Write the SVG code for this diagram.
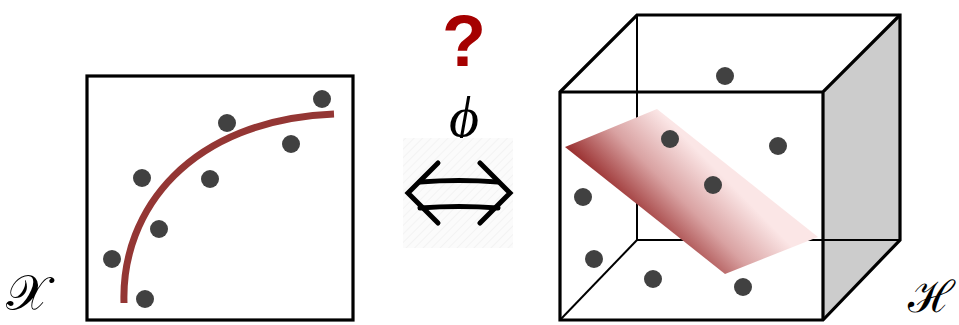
<svg xmlns="http://www.w3.org/2000/svg" width="959" height="325" viewBox="0 0 959 325">
<style>
.dot{fill:#414141}
.thick{fill:none;stroke:#000;stroke-width:3.2;stroke-linejoin:miter}
.thin{fill:none;stroke:#000;stroke-width:2}
.lbl{font-family:"DejaVu Serif","Liberation Serif",serif}
</style>
<defs>
<linearGradient id="plane" gradientUnits="userSpaceOnUse" x1="640" y1="222" x2="705" y2="158">
<stop offset="0" stop-color="#9a3030"/>
<stop offset="0.5" stop-color="#d9a2a2"/>
<stop offset="1" stop-color="#fbe6e6"/>
</linearGradient>
<pattern id="hatch" width="6" height="6" patternUnits="userSpaceOnUse" patternTransform="rotate(45)">
<rect width="6" height="6" fill="#fbfbfb"/>
<line x1="0" y1="0" x2="0" y2="6" stroke="#f3f3f3" stroke-width="2"/>
</pattern>
</defs>
<g id="input-space">
<rect x="87" y="76" width="266" height="244" class="thick"/>
<path d="M124,303 C121,210 190,120 334,114" fill="none" stroke="#943634" stroke-width="7"/>
<circle class="dot" cx="322" cy="99" r="9"/>
<circle class="dot" cx="227" cy="123" r="9"/>
<circle class="dot" cx="291" cy="144" r="9"/>
<circle class="dot" cx="142" cy="178" r="9"/>
<circle class="dot" cx="210" cy="179" r="9"/>
<circle class="dot" cx="159" cy="229" r="9"/>
<circle class="dot" cx="112" cy="259" r="9"/>
<circle class="dot" cx="145" cy="299" r="9"/>
<text class="lbl" x="6" y="310" font-size="50">𝒳</text>
</g>
<g id="mapping">
<text x="464" y="66" font-family="Liberation Sans, Arial, sans-serif" font-weight="bold" font-size="72" fill="#a50000" text-anchor="middle">?</text>
<text x="464" y="136" font-family="Liberation Serif, DejaVu Serif, serif" font-size="58" font-style="italic" text-anchor="middle">ϕ</text>
<rect x="403" y="138" width="110" height="110" fill="url(#hatch)"/>
<g fill="none" stroke="#000" stroke-width="5" stroke-linecap="round" stroke-linejoin="miter">
<polyline points="438,163 408,193 438,223"/>
<polyline points="480,163 510,193 480,223"/>
<path d="M420,182 Q459,179 498,182"/>
<path d="M420,208 Q459,205 498,208"/>
</g>
</g>
<g id="feature-space">
<polygon points="823,92 900,15 900,240 823,320" fill="#cccccc"/>
<line class="thin" x1="637" y1="15" x2="637" y2="240"/>
<line class="thin" x1="637" y1="240" x2="900" y2="240"/>
<line class="thin" x1="637" y1="240" x2="560" y2="320"/>
<polygon points="565,147 657,109 818,237 725,274" fill="url(#plane)"/>
<path class="thick" d="M560,320 L560,92 L637,15 L900,15 L900,240 L823,320 Z"/>
<path class="thick" d="M560,92 L823,92 L900,15 M823,92 L823,320"/>
<circle class="dot" cx="725" cy="76" r="9"/>
<circle class="dot" cx="670" cy="139" r="9"/>
<circle class="dot" cx="778" cy="146" r="9"/>
<circle class="dot" cx="713" cy="185" r="9"/>
<circle class="dot" cx="583" cy="197" r="9"/>
<circle class="dot" cx="594" cy="259" r="9"/>
<circle class="dot" cx="653" cy="279" r="9"/>
<circle class="dot" cx="743" cy="287" r="9"/>
<text class="lbl" x="908" y="312" font-size="44">ℋ</text>
</g>
</svg>
